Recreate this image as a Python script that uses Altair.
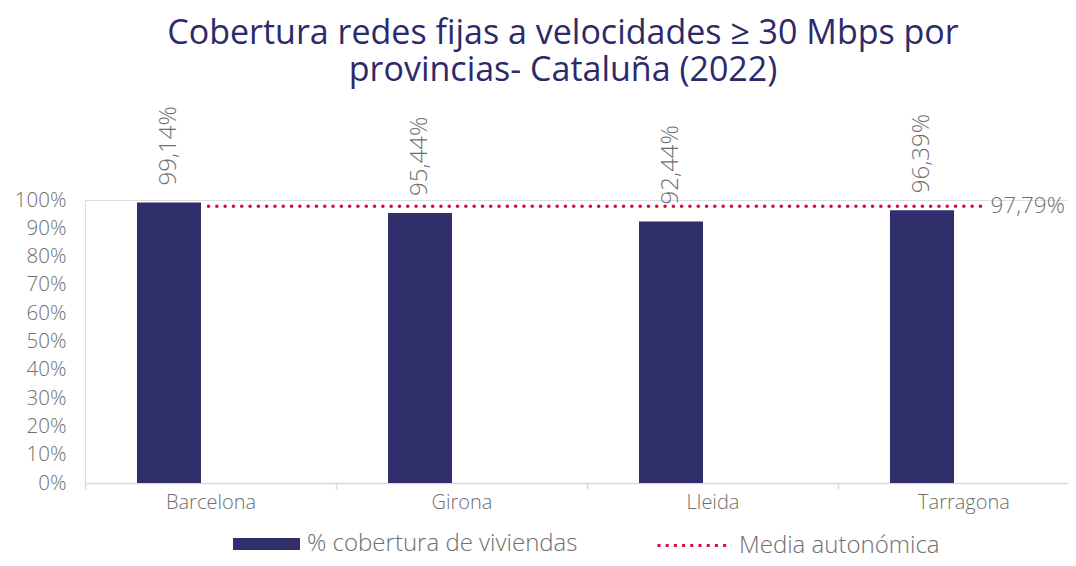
import altair as alt
import pandas as pd

# ---- data ----
provincias = ["Barcelona", "Girona", "Lleida", "Tarragona"]
cobertura = [99.14, 95.44, 92.44, 96.39]
media_autonomica = [97.79]
serie_barras = "% cobertura de viviendas"
serie_media = "Media autonómica"
titulo = ["Cobertura redes fijas a velocidades ≥ 30 Mbps por", "provincias- Cataluña (2022)"]
y_ticks = [0, 10, 20, 30, 40, 50, 60, 70, 80, 90, 100]

df = pd.DataFrame({"provincia": provincias, "valor": cobertura, "serie": [serie_barras] * len(provincias)})
dm = pd.DataFrame({"inicio": [provincias[0]], "fin": [provincias[-1]],
                   "valor": media_autonomica, "serie": [serie_media]})

FONT = "Open Sans"
GRAY = "#6E6E6E"
NAVY = "#312F6B"
RED = "#D20F3C"
TITLE_COLOR = "#2C2A6B"

x_scale = alt.Scale(domain=provincias, paddingInner=0, paddingOuter=0)
y_scale = alt.Scale(domain=[0, 100], nice=False)

x_axis = alt.Axis(labelFontSize=20, labelColor=GRAY, labelFont=FONT, labelFontWeight=300,
                  labelAngle=0, domainColor="#D9D9D9", domainWidth=1.5, tickColor="#D9D9D9",
                  tickWidth=1.5, tickSize=6, tickBand="extent", labelPadding=3)
y_axis = alt.Axis(values=y_ticks, labelExpr="datum.value + '%'", labelFontSize=20.5,
                  labelColor=GRAY, labelFont=FONT, labelFontWeight=300, domain=False,
                  ticks=False, tickSize=0, grid=False, labelPadding=19)

X = alt.X("provincia:N", scale=x_scale, sort=provincias, axis=x_axis, title=None)
Y = alt.Y("valor:Q", scale=y_scale, axis=y_axis, title=None)

rule = alt.Chart(dm).mark_rule(strokeWidth=3.5, strokeDash=[0.1, 8.2], strokeCap="round",
                               xOffset=-2, x2Offset=22).encode(
    x=alt.X("inicio:N", scale=x_scale, sort=provincias, axis=x_axis, title=None),
    x2="fin:N",
    y=Y,
    stroke=alt.Stroke("serie:N", scale=alt.Scale(domain=[serie_media], range=[RED]),
                      legend=alt.Legend(title=None, orient="none", legendX=571, legendY=307,
                                        symbolType="stroke", symbolSize=5476,
                                        symbolStrokeWidth=3, symbolDash=[3, 5.2],
                                        labelFontSize=24, labelColor=GRAY, labelFont=FONT,
                                        labelFontWeight=300, labelLimit=1000,
                                        labelOffset=6, padding=0)),
)

bars = alt.Chart(df).mark_bar(width=alt.RelativeBandSize(0.255), xOffset=-41.5).encode(
    x=X, y=Y,
    fill=alt.Fill("serie:N", scale=alt.Scale(domain=[serie_barras], range=[NAVY]),
                  legend=alt.Legend(title=None, orient="none", legendX=148, legendY=310.5,
                                    symbolType="M-1,-0.18L1,-0.18L1,0.18L-1,0.18Z",
                                    symbolSize=4489, symbolStrokeWidth=0,
                                    labelFontSize=24, labelColor=GRAY, labelFont=FONT,
                                    labelFontWeight=300, labelLimit=1000,
                                    labelOffset=7, padding=0)),
)

labels = alt.Chart(df).transform_calculate(
    etiqueta="replace(format(datum.valor, '.2f'), '.', ',') + '%'"
).mark_text(angle=270, align="left", baseline="middle", dx=17, xOffset=-41.5,
            fontSize=24, font=FONT, fontWeight=300, color=GRAY).encode(
    x=X, y=Y, text="etiqueta:N")

media_label = alt.Chart(dm).transform_calculate(
    etiqueta="replace(format(datum.valor, '.2f'), '.', ',') + '%'"
).mark_text(align="left", baseline="middle", xOffset=27, fontSize=22.5, font=FONT,
            fontWeight=300, color=GRAY).encode(
    x=alt.X("fin:N", scale=x_scale, sort=provincias, axis=x_axis, title=None),
    y=Y, text="etiqueta:N")

chart = alt.layer(rule, bars, labels, media_label).properties(
    width=1004, height=283,
    autosize=alt.AutoSizeParams(type="none"),
    padding={"left": 77, "top": 192, "right": -21, "bottom": 75},
    title=alt.TitleParams(text=titulo, fontSize=34, font=FONT, color=TITLE_COLOR,
                          fontWeight="normal", anchor="middle", frame="group", dx=-24,
                          offset=18, lineHeight=37),
).configure_view(stroke=None).configure(background="white")

chart.save("out.html", embed_options={"renderer": "svg", "actions": False})
